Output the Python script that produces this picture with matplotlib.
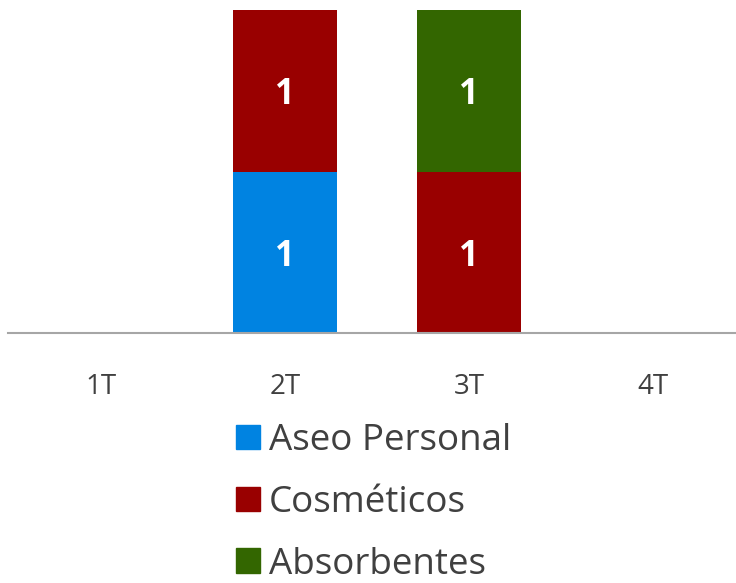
import matplotlib
matplotlib.use("Agg")
import matplotlib.pyplot as plt
from matplotlib.patches import Patch

categories = ["1T", "2T", "3T", "4T"]
series_names = ["Aseo Personal", "Cosméticos", "Absorbentes"]
aseo = [0, 1, 0, 0]
cosmeticos = [0, 1, 1, 0]
absorbentes = [0, 0, 1, 0]
colors = ["#0083E1", "#990000", "#336600"]

plt.rcParams['font.family'] = ['Open Sans', 'DejaVu Sans']

fig = plt.figure(figsize=(7.36, 5.83), dpi=100)
ax = fig.add_axes([8/736, (583-333)/583, (736-8)/736, 323/583])

x = list(range(len(categories)))
width = 0.57
bottom = [0]*len(categories)
for vals, col in zip([aseo, cosmeticos, absorbentes], colors):
    bars = ax.bar(x, vals, width, bottom=bottom, color=col)
    for xi, v, b in zip(x, vals, bottom):
        if v:
            ax.text(xi, b + v/2, str(v), ha='center', va='center_baseline', color='white',
                    fontsize=25, fontweight='bold')
    bottom = [b + v for b, v in zip(bottom, vals)]

ax.set_xlim(-93/184, (736-101)/184)
ax.set_ylim(0, 2)
for s in ['top', 'right', 'left']:
    ax.spines[s].set_visible(False)
ax.spines['bottom'].set_color('#A6A6A6')
ax.spines['bottom'].set_linewidth(1.5)
ax.set_yticks([])
ax.set_xticks(x)
ax.set_xticklabels(categories, fontsize=20, color='#404040')
ax.tick_params(axis='x', length=0, pad=29)

handles = [Patch(color=c, label=n) for c, n in zip(colors, series_names)]
fig.legend(handles=handles, loc='upper left', bbox_to_anchor=(236/736, 1 - 423/583),
           frameon=False, fontsize=26.5, labelcolor='#404040', handlelength=0.65,
           handleheight=0.65, handletextpad=0.25, labelspacing=0.7, borderpad=0,
           borderaxespad=0)

fig.savefig("out.png", dpi=100)
